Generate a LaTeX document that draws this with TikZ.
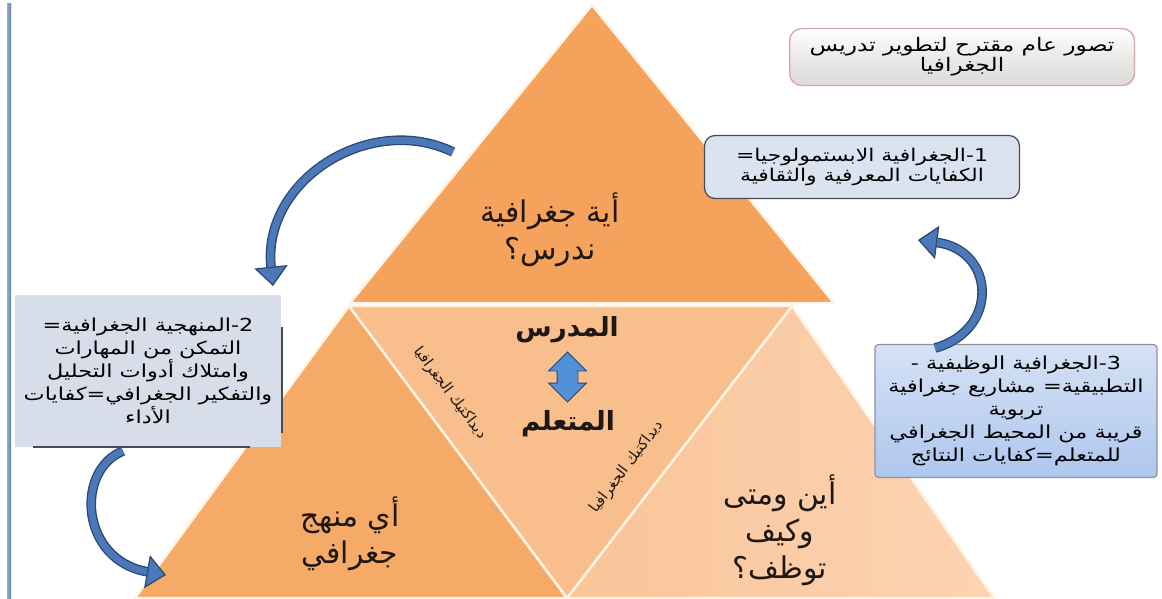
\documentclass[tikz,border=0pt]{standalone}
\usepackage{fontspec}
\usetikzlibrary{positioning, calc, arrows.meta, shapes.arrows, shadows}
\TeXXeTstate=1
\newfontfamily\arabicfont[Script=Arabic]{DejaVu Sans}
\newfontfamily\arabicwide[Script=Arabic, FakeStretch=1.25]{DejaVu Sans}
\newcommand{\rl}[1]{\beginR #1\endR}
\definecolor{sidebar}{RGB}{96, 128, 176}
\definecolor{sidebarlight}{RGB}{150, 172, 205}
\definecolor{orangetop}{RGB}{245, 163, 92}
\definecolor{orangeleft}{RGB}{246, 170, 104}
\definecolor{orangemid}{RGB}{248, 190, 140}
\definecolor{peachright}{RGB}{249, 196, 152}
\definecolor{peachlight}{RGB}{252, 212, 180}
\definecolor{edgecream}{RGB}{255, 244, 228}
\definecolor{titlegray}{RGB}{222, 218, 218}
\definecolor{titleedge}{RGB}{214, 168, 168}
\definecolor{paleblue}{RGB}{220, 227, 240}
\definecolor{skytop}{RGB}{212, 225, 247}
\definecolor{skybottom}{RGB}{168, 195, 238}
\definecolor{boxedge}{RGB}{70, 74, 82}
\definecolor{arrowblue}{RGB}{74, 120, 184}
\definecolor{arrowdark}{RGB}{44, 70, 110}
\definecolor{linkblue}{RGB}{80, 145, 215}
\definecolor{inktext}{RGB}{30, 24, 20}

\begin{document}
\begin{tikzpicture}[
    x=0.02cm, y=-0.02cm,
    tri/.style={draw=edgecream, line width=1.4pt, line join=round},
    bigtext/.style={font=\arabicfont\fontsize{17}{21}\selectfont, text=inktext, align=center},
    roletext/.style={font=\arabicfont\bfseries\fontsize{15}{18}\selectfont, text=inktext},
    edgetext/.style={font=\arabicfont\fontsize{8.5}{10}\selectfont, text=inktext},
    titlebox/.style={rectangle, draw=titleedge, top color=white, bottom color=titlegray, middle color=titlegray!60, rounded corners=7pt, line width=0.8pt, minimum width=6.9cm, minimum height=1.14cm, align=center, font=\arabicwide\fontsize{10.6}{11.5}\selectfont, drop shadow={shadow xshift=0.5pt, shadow yshift=-0.5pt, fill=black!15}},
    infobox/.style={rectangle, draw=boxedge, fill=paleblue, rounded corners=6pt, line width=0.7pt, align=center, font=\arabicwide\fontsize{10}{11.5}\selectfont},
    blockarrow/.style={line width=5.5pt, draw=arrowdark, -{Triangle[width=19pt, length=11pt, line width=0.7pt, fill=arrowblue]}},
    blockinner/.style={line width=4pt, draw=arrowblue, shorten >=11pt}
]
    \useasboundingbox (0,0) rectangle (1162,598);

    % =========================================================================
    % SIDE BAR
    % =========================================================================
    \fill[left color=sidebarlight, right color=sidebar] (7,4) rectangle (11,598);

    % =========================================================================
    % PYRAMID
    % =========================================================================
    \coordinate (apex) at (592,5);
    \coordinate (topL) at (350,303);
    \coordinate (topR) at (834,303);
    \coordinate (leftA) at (349,306);
    \coordinate (leftB) at (135,598);
    \coordinate (base) at (567,598);
    \coordinate (rightA) at (792,306);
    \coordinate (rightB) at (994,598);

    \fill[tri, fill=orangetop] (apex) -- (topR) -- (topL) -- cycle;
    \fill[tri, fill=orangeleft] (leftA) -- (base) -- (leftB) -- cycle;
    \fill[tri, left color=peachright, right color=peachlight] (rightA) -- (rightB) -- (base) -- cycle;
    \fill[tri, fill=orangemid] (leftA) -- (rightA) -- (base) -- cycle;

    % Triangle labels
    \node[bigtext] (which) at (550,230) {\rl{أية جغرافية}\\\rl{ندرس؟}};
    \node[bigtext] (method) at (350,534) {\rl{أي منهج}\\\rl{جغرافي}};
    \node[bigtext] (usage) at (780,530) {\rl{أين ومتى}\\\rl{وكيف}\\\rl{توظف؟}};

    % Centre: teacher <-> learner
    \node[roletext] (teacher) at (567,330) {\rl{المدرس}};
    \node[roletext] (learner) at (568,424) {\rl{المتعلم}};
    \node[double arrow, draw=arrowdark, fill=linkblue, rotate=90, inner xsep=0pt, inner ysep=0.2cm, minimum height=1cm, double arrow head extend=0.17cm, line width=0.5pt] (link) at ($(teacher)!0.5!(learner)$) {};

    \node[edgetext, rotate=-53] (didL) at (450,393) {\rl{ديداكتيك الجغرافيا}};
    \node[edgetext, rotate=53] (didR) at (627,467) {\rl{ديداكتيك الجغرافيا}};

    % =========================================================================
    % TEXT BOXES
    % =========================================================================
    \node[titlebox] (title) at (962,57) {\rl{تصور عام مقترح لتطوير تدريس}\\\rl{الجغرافيا}};

    \node[infobox, minimum width=6.3cm, minimum height=1.26cm] (epist) at (862,167)
        {\rl{1-الجغرافية الابستمولوجيا=}\\\rl{الكفايات المعرفية والثقافية}};

    \node[infobox, draw=none, rounded corners=0pt, fill=paleblue!95!gray, minimum width=5.34cm, minimum height=3.04cm, font=\arabicwide\fontsize{10.2}{13}\selectfont] (method-box) at (148,371)
        {\rl{2-المنهجية الجغرافية=}\\\rl{التمكن من المهارات}\\\rl{وامتلاك أدوات التحليل}\\\rl{والتفكير الجغرافي=كفايات}\\\rl{الأداء}};
    \draw[boxedge, line width=0.8pt] (282,327) -- (282,433);
    \draw[boxedge, line width=0.8pt] (33,447) -- (250,447);

    \node[infobox, rounded corners=2pt, draw=boxedge!60, top color=skytop, bottom color=skybottom, fill opacity=0.88, text opacity=1, minimum width=5.64cm, minimum height=2.66cm, font=\arabicwide\fontsize{10.2}{13}\selectfont] (func) at (1016,411)
        {\rl{3-الجغرافية الوظيفية -}\\\rl{التطبيقية= مشاريع جغرافية}\\\rl{تربوية}\\\rl{قريبة من المحيط الجغرافي}\\\rl{للمتعلم=كفايات النتائج}};

    % =========================================================================
    % CURVED ARROWS
    % =========================================================================
    \coordinate (a1) at (453,152);
    \coordinate (a2) at (273,286);
    \draw[blockarrow] (a1) .. controls (370,112) and (262,180) .. (a2);
    \draw[blockinner] (a1) .. controls (370,112) and (262,180) .. (a2);

    \coordinate (b1) at (123,451);
    \coordinate (b2) at (166,575);
    \draw[blockarrow] (b1) .. controls (75,470) and (80,560) .. (b2);
    \draw[blockinner] (b1) .. controls (75,470) and (80,560) .. (b2);

    \coordinate (c1) at (935,348);
    \coordinate (c2) at (918,240);
    \draw[blockarrow] (c1) .. controls (1000,330) and (995,250) .. (c2);
    \draw[blockinner] (c1) .. controls (1000,330) and (995,250) .. (c2);

\end{tikzpicture}
\end{document}
